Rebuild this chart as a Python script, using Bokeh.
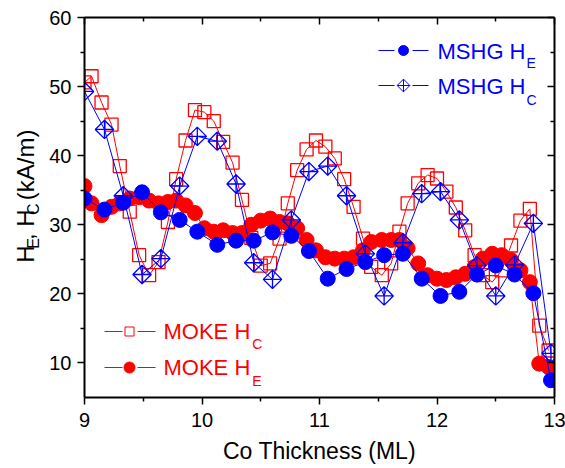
import numpy as np
from bokeh.plotting import figure
from bokeh.layouts import row
from bokeh.models import Range1d, LinearAxis, FixedTicker, Label
from bokeh.embed import file_html
from bokeh.resources import INLINE

# ---------------- data ----------------
moke_x = [9.00, 9.06, 9.145, 9.23, 9.30, 9.385, 9.465, 9.55, 9.63, 9.71,
          9.78, 9.86, 9.94, 10.02, 10.10, 10.18, 10.26, 10.34, 10.42, 10.50,
          10.58, 10.66, 10.73, 10.81, 10.89, 10.97, 11.05, 11.13, 11.21, 11.29,
          11.37, 11.44, 11.53, 11.61, 11.68, 11.75, 11.84, 11.92, 12.00, 12.08,
          12.16, 12.24, 12.32, 12.39, 12.47, 12.55, 12.63, 12.71, 12.79, 12.87,
          12.95]
moke_hc = [50.6, 51.5, 47.7, 44.5, 38.5, 31.9, 25.6, 22.7, 24.6, 30.4,
           36.6, 42.2, 46.6, 46.3, 45.0, 42.0, 39.0, 33.6, 28.1, 24.1,
           24.4, 28.0, 33.1, 37.9, 40.9, 42.2, 41.3, 39.6, 36.6, 32.6,
           28.0, 23.9, 22.7, 24.4, 29.0, 33.1, 36.0, 37.2, 36.7, 34.8,
           32.5, 29.2, 25.6, 22.7, 21.7, 23.4, 27.0, 30.6, 32.3, 15.4,
           11.8]
moke_he = [35.6, 33.1, 31.4, 32.6, 33.1, 33.8, 34.0, 33.5, 33.1, 33.3,
           33.5, 32.8, 31.7, 29.5, 29.0, 29.2, 28.8, 28.8, 30.0, 30.6,
           30.9, 30.4, 30.2, 29.5, 27.8, 26.3, 25.3, 25.1, 25.1, 25.3,
           26.3, 27.5, 27.8, 27.8, 27.8, 26.6, 24.4, 22.7, 22.2, 22.0,
           22.4, 22.9, 23.9, 25.1, 25.8, 25.6, 24.9, 23.4, 21.7, 9.9,
           9.4]

mshg_x = [9.00, 9.17, 9.33, 9.49, 9.65, 9.81, 9.96, 10.13, 10.29, 10.44,
          10.60, 10.76, 10.91, 11.07, 11.23, 11.39, 11.55, 11.71, 11.87, 12.03,
          12.19, 12.34, 12.50, 12.66, 12.82, 12.97]
mshg_hc = [49.3, 43.8, 34.2, 22.8, 25.1, 35.6, 42.8, 42.1, 35.9, 24.5,
           22.1, 30.7, 37.7, 38.5, 34.2, 25.8, 19.7, 27.4, 34.5, 34.8,
           30.7, 24.1, 19.7, 24.2, 30.2, 11.4]
mshg_he = [33.8, 32.2, 33.2, 34.7, 31.8, 30.7, 29.0, 27.1, 27.7, 27.7,
           28.9, 28.4, 26.2, 22.2, 23.6, 24.6, 25.6, 25.8, 22.2, 19.7,
           20.3, 22.8, 24.1, 22.8, 20.1, 7.5]

x_ticks = [9, 10, 11, 12, 13]
x_minor = [9.5, 10.5, 11.5, 12.5]
y_ticks = [10, 20, 30, 40, 50, 60]
y_minor = [15, 25, 35, 45, 55]

x_title = "Co Thickness (ML)"

# ---------------- styling ----------------
FONT = "Liberation Sans"
RED = "#FF0000"
BLUE = "#0000FF"
X0, X1, Y0, Y1 = 9, 13, 5, 60
PAGE_W, PAGE_H = 565, 468
FW, FH = 470, 380          # frame size in px
FL, FT = 83, 17            # frame left/top in page px
LEFT_W = 46                # width of the strip holding the y title
BASE_K = 0.3               # label anchor -> glyph baseline correction (em)

def px2x(px):
    return X0 + (px - FL) * (X1 - X0) / FW

def px2y(py):
    return Y0 + (FT + FH - py) * (Y1 - Y0) / FH

# Arial / Liberation Sans advance widths (per 1000 em)
W = {'H': 722, 'E': 667, 'C': 722, ',': 278, ' ': 278, '(': 333, 'k': 500,
     'A': 667, '/': 278, 'm': 833, ')': 333, 'M': 833, 'S': 667, 'G': 778,
     'O': 778, 'K': 667}

def tw(text, size):
    return sum(W[c] for c in text) * size / 1000.0

p = figure(frame_width=FW, frame_height=FH,
           min_border_left=FL - LEFT_W, min_border_right=PAGE_W - FL - FW,
           min_border_top=FT, min_border_bottom=PAGE_H - FT - FH,
           x_range=Range1d(X0, X1), y_range=Range1d(Y0, Y1),
           output_backend="svg", toolbar_location=None)
p.xgrid.visible = False
p.ygrid.visible = False
p.outline_line_color = None
p.background_fill_color = "white"
p.border_fill_color = "white"

def style_axis(ax, inward, standoff=5):
    ax.axis_line_color = "black"
    ax.axis_line_width = 2
    ax.major_tick_line_color = "black"
    ax.minor_tick_line_color = "black"
    ax.major_tick_line_width = 1.5
    ax.minor_tick_line_width = 1.5
    if inward:
        ax.major_tick_in, ax.major_tick_out = 7, 0
        ax.minor_tick_in, ax.minor_tick_out = 4, 0
    else:
        ax.major_tick_in, ax.major_tick_out = 0, 7
        ax.minor_tick_in, ax.minor_tick_out = 0, 4
    ax.major_label_text_font = FONT
    ax.major_label_text_font_size = "20px"
    ax.major_label_text_color = "black"
    ax.major_label_standoff = standoff

p.xaxis[0].ticker = FixedTicker(ticks=x_ticks, minor_ticks=x_minor)
p.yaxis[0].ticker = FixedTicker(ticks=y_ticks, minor_ticks=y_minor)
style_axis(p.xaxis[0], False, standoff=8)
style_axis(p.yaxis[0], False, standoff=6)
p.yaxis[0].axis_label = None

xa = p.xaxis[0]
xa.axis_label = x_title
xa.axis_label_text_font = FONT
xa.axis_label_text_font_size = "23px"
xa.axis_label_text_font_style = "normal"
xa.axis_label_text_color = "black"
xa.axis_label_standoff = 8

top = LinearAxis(ticker=FixedTicker(ticks=x_ticks, minor_ticks=x_minor),
                 major_label_overrides={t: "" for t in x_ticks})
style_axis(top, True)
top.major_label_text_font_size = "0px"
top.major_label_standoff = 0
p.add_layout(top, "above")

right = LinearAxis(ticker=FixedTicker(ticks=y_ticks, minor_ticks=y_minor),
                   major_label_overrides={t: "" for t in y_ticks})
style_axis(right, True)
right.major_label_text_font_size = "0px"
right.major_label_standoff = 0
p.add_layout(right, "right")

# ---------------- data glyphs ----------------
p.line(moke_x, moke_he, line_color=RED, line_width=1)
p.scatter(moke_x, moke_he, marker="circle", size=15,
          fill_color=RED, line_color=RED)

p.line(moke_x, moke_hc, line_color=RED, line_width=1)
p.scatter(moke_x, moke_hc, marker="square", size=13,
          fill_color=None, line_color=RED, line_width=1.3)

p.line(mshg_x, mshg_he, line_color=BLUE, line_width=1)
p.scatter(mshg_x, mshg_he, marker="circle", size=15,
          fill_color=BLUE, line_color=BLUE)

p.line(mshg_x, mshg_hc, line_color=BLUE, line_width=1)
p.scatter(mshg_x, mshg_hc, marker="square_x", angle=np.pi / 4, size=13,
          fill_color=None, line_color=BLUE, line_width=1.3)

# ---------------- legends (drawn by hand for subscripts) ----------------
def leg_lines(xa_, xb, xc, xd, py, color):
    p.segment(x0=[px2x(xa_), px2x(xc)], y0=[px2y(py)] * 2,
              x1=[px2x(xb), px2x(xd)], y1=[px2y(py)] * 2,
              line_color=color, line_width=1)

def lab(px, py, text, size, color):
    # py is the wanted glyph baseline in page px
    p.add_layout(Label(x=px2x(px), y=px2y(py - BASE_K * size), text=text,
                       text_font=FONT, text_font_size=f"{size}px",
                       text_color=color, text_align="left",
                       text_baseline="alphabetic"))

# MSHG H_E
leg_lines(377, 393, 411, 427, 50, BLUE)
p.scatter([px2x(402)], [px2y(50)], marker="circle", size=10,
          fill_color=BLUE, line_color=BLUE)
lab(436, 58, "MSHG H", 22, BLUE)
lab(436 + tw("MSHG H", 22) + 1, 67, "E", 14, BLUE)

# MSHG H_C
leg_lines(377, 393, 411, 427, 85, BLUE)
p.scatter([px2x(402)], [px2y(85)], marker="square_x", angle=np.pi / 4,
          size=9, fill_color=None, line_color=BLUE, line_width=1)
lab(436, 93, "MSHG H", 22, BLUE)
lab(436 + tw("MSHG H", 22) + 1, 104, "C", 14, BLUE)

# MOKE H_C
leg_lines(103, 121, 136, 154, 331, RED)
p.scatter([px2x(128)], [px2y(331)], marker="square", size=9,
          fill_color=None, line_color=RED, line_width=1)
lab(162, 338, "MOKE H", 22, RED)
lab(162 + tw("MOKE H", 22) + 2, 348, "C", 14, RED)

# MOKE H_E
leg_lines(103, 121, 136, 154, 367, RED)
p.scatter([px2x(128)], [px2y(367)], marker="circle", size=11,
          fill_color=RED, line_color=RED)
lab(162, 374, "MOKE H", 22, RED)
lab(162 + tw("MOKE H", 22) + 2, 385, "E", 14, RED)

# ---------------- y title strip: H_E, H_C (kA/m) ----------------
ly = figure(width=LEFT_W, height=PAGE_H, x_range=Range1d(0, LEFT_W),
            y_range=Range1d(PAGE_H, 0), min_border=0,
            x_axis_location=None, y_axis_location=None,
            output_backend="svg", toolbar_location=None)
ly.xgrid.visible = False
ly.ygrid.visible = False
ly.outline_line_color = None
ly.background_fill_color = "white"
ly.border_fill_color = "white"

MAIN, SUB = 24, 16
pos = 302.0
for txt, sz, sub in [("H", MAIN, False), ("E", SUB, True), (", H", MAIN, False),
                     ("C", SUB, True), ("(kA/m)", MAIN, False)]:
    if txt.startswith("("):
        pos -= tw(" ", MAIN)
    base_x = 38 if sub else 32          # wanted glyph baseline (page px)
    ly.add_layout(Label(x=base_x - BASE_K * sz, y=pos, text=txt,
                        text_font=FONT, text_font_size=f"{sz}px",
                        text_color="black", text_align="left",
                        text_baseline="alphabetic", angle=np.pi / 2))
    pos -= tw(txt, sz)

layout = row(ly, p, spacing=0)
open("out.html", "w").write(file_html(layout, INLINE))
